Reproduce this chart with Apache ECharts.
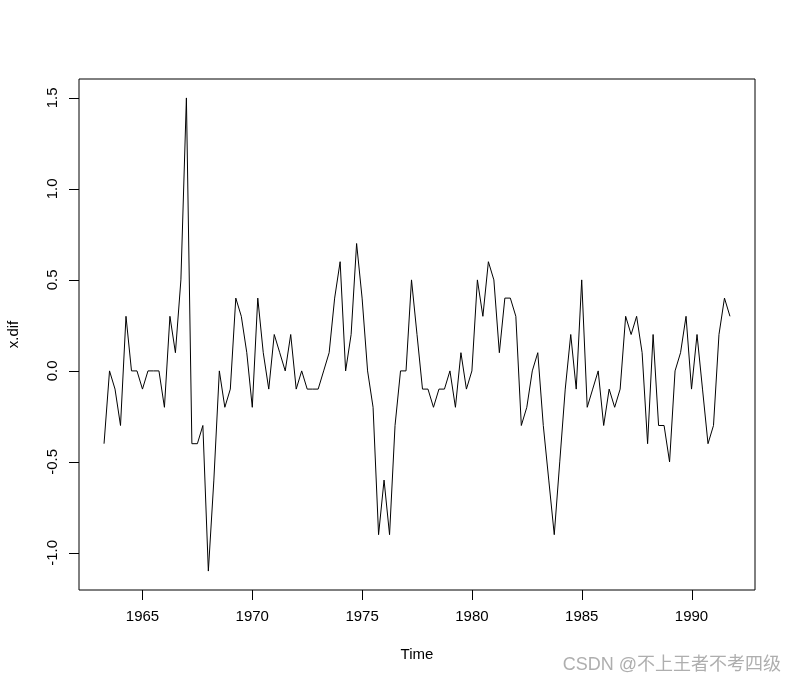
<!DOCTYPE html>
<html>
<head>
<meta charset="utf-8">
<script src="https://cdn.jsdelivr.net/npm/echarts@6/dist/echarts.min.js"></script>
<style>
  html, body { margin: 0; padding: 0; background: #fff; }
  #chart { width: 796px; height: 685px; }
</style>
</head>
<body>
<div id="chart"></div>
<script>
// Quarterly series (ts start 1963 Q2, frequency 4)
const startTime = 1963.25;
const frequency = 4;
const xdif = [
  -0.4, 0.0, -0.1, -0.3, 0.3, 0.0, 0.0, -0.1, 0.0, 0.0, 0.0, -0.2, 0.3, 0.1, 0.5, 1.5, -0.4, -0.4, -0.3, -1.1,
  -0.6, 0.0, -0.2, -0.1, 0.4, 0.3, 0.1, -0.2, 0.4, 0.1, -0.1, 0.2, 0.1, 0.0, 0.2, -0.1, 0.0, -0.1, -0.1, -0.1,
  0.0, 0.1, 0.4, 0.6, 0.0, 0.2, 0.7, 0.4, 0.0, -0.2, -0.9, -0.6, -0.9, -0.3, 0.0, 0.0, 0.5, 0.2, -0.1, -0.1,
  -0.2, -0.1, -0.1, 0.0, -0.2, 0.1, -0.1, 0.0, 0.5, 0.3, 0.6, 0.5, 0.1, 0.4, 0.4, 0.3, -0.3, -0.2, 0.0, 0.1,
  -0.3, -0.6, -0.9, -0.5, -0.1, 0.2, -0.1, 0.5, -0.2, -0.1, 0.0, -0.3, -0.1, -0.2, -0.1, 0.3, 0.2, 0.3, 0.1, -0.4,
  0.2, -0.3, -0.3, -0.5, 0.0, 0.1, 0.3, -0.1, 0.2, -0.1, -0.4, -0.3, 0.2, 0.4, 0.3
];
const xTicks = [1965, 1970, 1975, 1980, 1985, 1990];
const yTicks = [-1.0, -0.5, 0.0, 0.5, 1.0, 1.5];

const seriesData = xdif.map((v, i) => [startTime + i / frequency, v]);

// R-style 4% axis extension
const tMin = startTime, tMax = startTime + (xdif.length - 1) / frequency;
const vMin = Math.min(...xdif), vMax = Math.max(...xdif);
const tPad = (tMax - tMin) * 0.04, vPad = (vMax - vMin) * 0.04;
const xLo = tMin - tPad, xHi = tMax + tPad, yLo = vMin - vPad, yHi = vMax + vPad;
const TICK_LEN = 10;

const FONT = '"Liberation Sans", Arial, sans-serif';
const chart = echarts.init(document.getElementById('chart'), null, { renderer: 'canvas' });
chart.setOption({
  animation: false,
  backgroundColor: '#ffffff',
  grid: {
    left: 79, top: 79, width: 676, height: 511,
    show: true, borderColor: '#000', borderWidth: 1, backgroundColor: 'transparent'
  },
  xAxis: {
    type: 'value',
    min: xLo, max: xHi,
    axisLine: { show: false, onZero: false },
    splitLine: { show: false },
    axisTick: { show: false },
    axisLabel: { customValues: xTicks, color: '#000', fontSize: 15, fontFamily: FONT, margin: 19,
      formatter: v => String(Math.round(v)) }
  },
  yAxis: {
    type: 'value',
    min: yLo, max: yHi,
    axisLine: { show: false, onZero: false },
    splitLine: { show: false },
    axisTick: { show: false },
    axisLabel: {
      customValues: yTicks, rotate: 90, color: '#000', fontSize: 15, fontFamily: FONT, margin: 19,
      formatter: v => Number(v).toFixed(1)
    }
  },
  graphic: [
    { type: 'text', x: 417, y: 655, style: { text: 'Time', fill: '#000', font: '15px ' + FONT, align: 'center', verticalAlign: 'middle' }, silent: true },
    { type: 'text', rotation: Math.PI / 2, x: 14, y: 334.5, style: { text: 'x.dif', fill: '#000', font: '15px ' + FONT, align: 'center', verticalAlign: 'middle' }, silent: true },
    { type: 'text', x: 781, y: 665, style: { text: 'CSDN @不上王者不考四级', fill: 'rgba(140,140,140,0.7)', font: '18px "Liberation Sans", "Noto Sans CJK SC", sans-serif', align: 'right', verticalAlign: 'middle' }, silent: true }
  ],
  series: [
    {
      type: 'line',
      data: seriesData,
      showSymbol: false,
      symbol: 'none',
      lineStyle: { color: '#000', width: 1 },
      silent: true
    },
    {
      // x-axis tick marks drawn through the chart's scale (R style, outside the box)
      type: 'custom',
      silent: true,
      clip: false,
      z: 10,
      encode: { x: 0, y: 1 },
      data: xTicks.map(t => [t, yLo]),
      renderItem: (params, api) => {
        const p = api.coord([api.value(0), api.value(1)]);
        const x = Math.round(p[0]) + 0.5;
        return { type: 'group', children: [{ type: 'line', shape: { x1: x, y1: p[1], x2: x, y2: p[1] + TICK_LEN },
                 style: { stroke: '#000', lineWidth: 1, fill: null } }] };
      }
    },
    {
      // y-axis tick marks
      type: 'custom',
      silent: true,
      clip: false,
      z: 10,
      encode: { x: 0, y: 1 },
      data: yTicks.map(v => [xLo, v]),
      renderItem: (params, api) => {
        const p = api.coord([api.value(0), api.value(1)]);
        const y = Math.round(p[1]) + 0.5;
        return { type: 'group', children: [{ type: 'line', shape: { x1: p[0], y1: y, x2: p[0] - TICK_LEN, y2: y },
                 style: { stroke: '#000', lineWidth: 1, fill: null } }] };
      }
    }
  ]
});
</script>
</body>
</html>
